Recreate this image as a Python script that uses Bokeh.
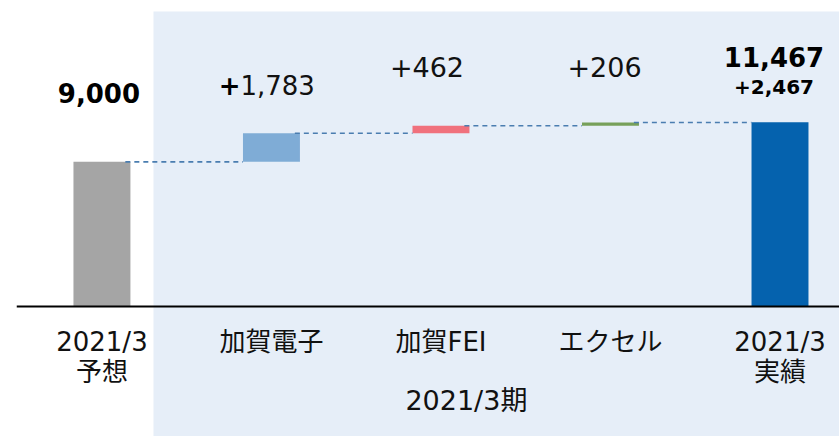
from bokeh.plotting import figure
from bokeh.models import Range1d, BoxAnnotation, Span, ColumnDataSource
from bokeh.core.properties import value
from bokeh.embed import file_html
from bokeh.resources import INLINE

# ---- data ----
categories = ["2021/3\n予想", "加賀電子", "加賀FEI", "エクセル", "2021/3\n実績"]
forecast = 9000
deltas = [1783, 462, 206]
actual = 11467
total_diff = 2467
period_label = "2021/3期"

# ---- derived ----
xs = list(range(len(categories)))
cum = [forecast]
for d in deltas:
    cum.append(cum[-1] + d)
bottoms = [0] + cum[:-1] + [0]
tops = cum + [actual]
colors = ["#A5A5A5", "#7FACD6", "#F0717D", "#77A05A", "#0562AE"]
W = 0.336

FONT = value("'DejaVu Sans', 'Noto Sans CJK JP', sans-serif")

p = figure(width=839, height=436, output_backend="svg", toolbar_location=None,
           x_range=Range1d(-0.504, 4.351), y_range=Range1d(-8090, 18544),
           x_axis_type=None, y_axis_type=None,
           min_border_left=16, min_border_right=0, min_border_top=8, min_border_bottom=0)
p.grid.visible = False
p.outline_line_color = None
p.background_fill_color = "white"
p.border_fill_color = "white"

bg = BoxAnnotation(left=0.304, top=18358, fill_color="#E6EEF8", fill_alpha=1.0,
                   line_alpha=0, level="underlay")
p.add_layout(bg)

src = ColumnDataSource(dict(x=xs, bottom=bottoms, top=tops, color=colors))
p.vbar(x="x", width=W, bottom="bottom", top="top", fill_color="color",
       line_color=None, source=src)

# connectors
x0 = [i + W / 2 - 0.03 for i in range(len(cum))]
x1 = [i + 1 - W / 2 for i in range(len(cum))]
p.segment(x0=x0, y0=cum, x1=x1, y1=cum, line_color="#4A7DB0", line_width=1.6,
          line_dash="5 4")

p.add_layout(Span(location=0, dimension="width", line_color="black", line_width=2))

# category labels (split into lines)
line1 = [c.split("\n")[0] for c in categories]
line2_x = [x for x, c in zip(xs, categories) if "\n" in c]
line2 = [c.split("\n")[1] for c in categories if "\n" in c]
p.text(x=xs, y=[-2240] * len(xs), text=line1, text_font=FONT, text_font_size="26px",
       text_align="center", text_baseline="middle", text_color="#111111")
p.text(x=line2_x, y=[-4107] * len(line2_x), text=line2, text_font=FONT, text_font_size="26px",
       text_align="center", text_baseline="middle", text_color="#111111")
p.text(x=[2.15], y=[-5850], text=[period_label], text_font=FONT, text_font_size="27px",
       text_align="center", text_baseline="middle", text_color="#111111")

# value labels
p.text(x=[0], y=[13255], text=[f"{forecast:,}"], text_font=FONT, text_font_size="26px",
       text_font_style="bold", text_align="center", text_baseline="middle", text_color="black",
       x_offset=-3)
p.text(x=[1], y=[13784], text=["+"], text_font=FONT, text_font_size="26px",
       text_font_style="bold", text_align="right", text_baseline="middle", text_color="black",
       x_offset=-31)
p.text(x=[1], y=[13784], text=[f"{deltas[0]:,}"], text_font=FONT, text_font_size="26px",
       text_align="left", text_baseline="middle", text_color="#111111", x_offset=-31)
p.text(x=[2], y=[14900], text=[f"+{deltas[1]:,}"], text_font=FONT,
       text_font_size="27px", text_align="center", text_baseline="middle", text_color="#111111",
       x_offset=-14)
p.text(x=[3], y=[14900], text=[f"+{deltas[2]:,}"], text_font=FONT,
       text_font_size="27px", text_align="center", text_baseline="middle", text_color="#111111",
       x_offset=-6)
p.text(x=[4], y=[15557], text=[f"{actual:,}"], text_font=FONT, text_font_size="26px",
       text_font_style="bold", text_align="center", text_baseline="middle", text_color="black",
       x_offset=-6)
p.text(x=[4], y=[13690], text=[f"+{total_diff:,}"], text_font=FONT, text_font_size="20px",
       text_font_style="bold", text_align="center", text_baseline="middle", text_color="black",
       x_offset=-6)

open("out.html", "w").write(file_html(p, INLINE))
